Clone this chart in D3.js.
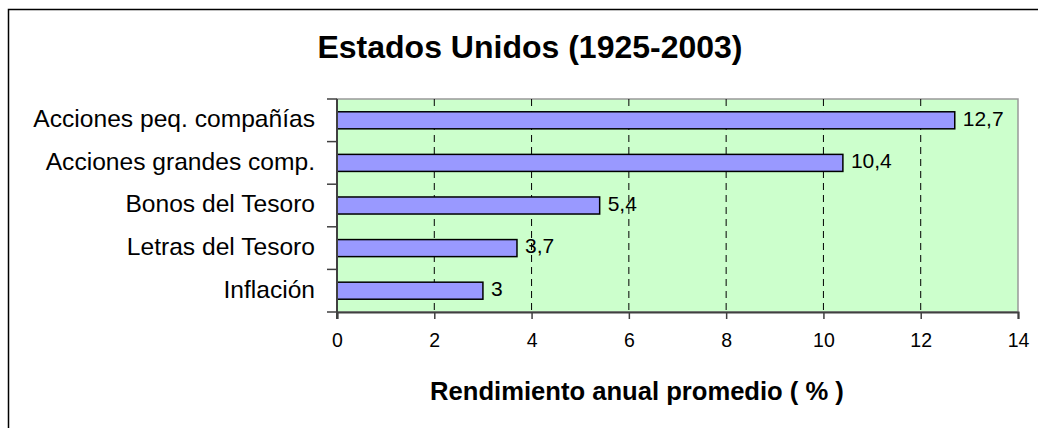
<!DOCTYPE html>
<html>
<head>
    <meta charset="utf-8">
    <title>Estados Unidos (1925-2003)</title>
    <script src="https://d3js.org/d3.v7.min.js"></script>
    <style>
        body { margin: 0; background: #fff; }
        text { font-family: "Liberation Sans", Arial, sans-serif; fill: #000; }
    </style>
</head>
<body>
    <div id="chart"></div>
    <script>
        // data
        var categories = ["Acciones peq. compañías", "Acciones grandes comp.", "Bonos del Tesoro", "Letras del Tesoro", "Inflación"];
        var values = [12.7, 10.4, 5.4, 3.7, 3];
        var valueLabels = ["12,7", "10,4", "5,4", "3,7", "3"];
        var xTicks = [0, 2, 4, 6, 8, 10, 12, 14];

        var W = 1038, H = 428;
        var margin = { top: 99, left: 337 },
            width = 1018 - margin.left,
            height = 312 - margin.top;

        var svg = d3.select("#chart").append("svg")
            .attr("width", W)
            .attr("height", H);

        // outer chart frame (runs off the right and bottom)
        svg.append("rect")
            .attr("x", 8.5).attr("y", 9.5)
            .attr("width", W + 10).attr("height", H + 10)
            .attr("fill", "none")
            .attr("stroke", "#000")
            .attr("stroke-width", 1.5);

        var g = svg.append("g")
            .attr("transform", "translate(" + margin.left + "," + margin.top + ")");

        var x = d3.scaleLinear().domain([0, 14]).range([0, width]);
        var y = d3.scaleBand().domain(categories).range([0, height]).paddingInner(0.6).paddingOuter(0.3);
        var yb = d3.scaleBand().domain(categories).range([0, height]);

        // plot area
        g.append("rect")
            .attr("width", width).attr("height", height)
            .attr("fill", "#ccffcc")
            .attr("stroke", "#999")
            .attr("stroke-width", 1.5);

        // dashed gridlines
        g.selectAll(".grid")
            .data(xTicks.filter(function (d) { return d > 0 && d < 14; }))
            .enter().append("line")
            .attr("x1", function (d) { return x(d); })
            .attr("x2", function (d) { return x(d); })
            .attr("y1", 0).attr("y2", height)
            .attr("stroke", "#000")
            .attr("stroke-dasharray", "7,5");

        // bars
        g.selectAll(".bar")
            .data(values)
            .enter().append("rect")
            .attr("x", x(0))
            .attr("y", function (d, i) { return y(categories[i]); })
            .attr("width", function (d) { return x(d) - x(0); })
            .attr("height", y.bandwidth())
            .attr("fill", "#9999ff")
            .attr("stroke", "#000")
            .attr("stroke-width", 1.5);

        // value labels
        g.selectAll(".val")
            .data(values)
            .enter().append("text")
            .attr("x", function (d) { return x(d) + 8; })
            .attr("y", function (d, i) { return y(categories[i]) + y.bandwidth() / 2; })
            .attr("dy", "0.25em")
            .style("font-size", "21px")
            .text(function (d, i) { return valueLabels[i]; });

        // x axis
        var xAxis = g.append("g")
            .attr("transform", "translate(0," + height + ")")
            .call(d3.axisBottom(x).tickValues(xTicks).tickSize(7).tickPadding(14));
        xAxis.select(".domain").attr("stroke", "#404040").attr("stroke-width", 2);
        xAxis.selectAll(".tick line").attr("stroke", "#404040").attr("stroke-width", 1.5);
        xAxis.selectAll("text").style("font-size", "19.5px").attr("fill", "#000");

        // y axis: ticks sit on category boundaries
        var yAxis = g.append("g");
        yAxis.append("line")
            .attr("x1", 0).attr("x2", 0).attr("y1", 0).attr("y2", height + 7)
            .attr("stroke", "#404040").attr("stroke-width", 2);
        yAxis.selectAll(".ytick")
            .data(categories.concat(["end"]))
            .enter().append("line")
            .attr("x1", -10).attr("x2", 0)
            .attr("y1", function (d, i) { return i < categories.length ? yb(d) : height; })
            .attr("y2", function (d, i) { return i < categories.length ? yb(d) : height; })
            .attr("stroke", "#404040").attr("stroke-width", 1.5);
        yAxis.selectAll(".ylab")
            .data(categories)
            .enter().append("text")
            .attr("x", -22)
            .attr("y", function (d) { return yb(d) + yb.bandwidth() / 2; })
            .attr("dy", "0.28em")
            .attr("text-anchor", "end")
            .style("font-size", "24.6px")
            .text(function (d) { return d; });

        // title
        svg.append("text")
            .attr("x", 530).attr("y", 58)
            .attr("text-anchor", "middle")
            .style("font-size", "32px")
            .style("font-weight", "bold")
            .text("Estados Unidos (1925-2003)");

        // axis title
        svg.append("text")
            .attr("x", 637).attr("y", 400)
            .attr("text-anchor", "middle")
            .style("font-size", "25.6px")
            .style("font-weight", "bold")
            .text("Rendimiento anual promedio ( % )");
    </script>
</body>
</html>
